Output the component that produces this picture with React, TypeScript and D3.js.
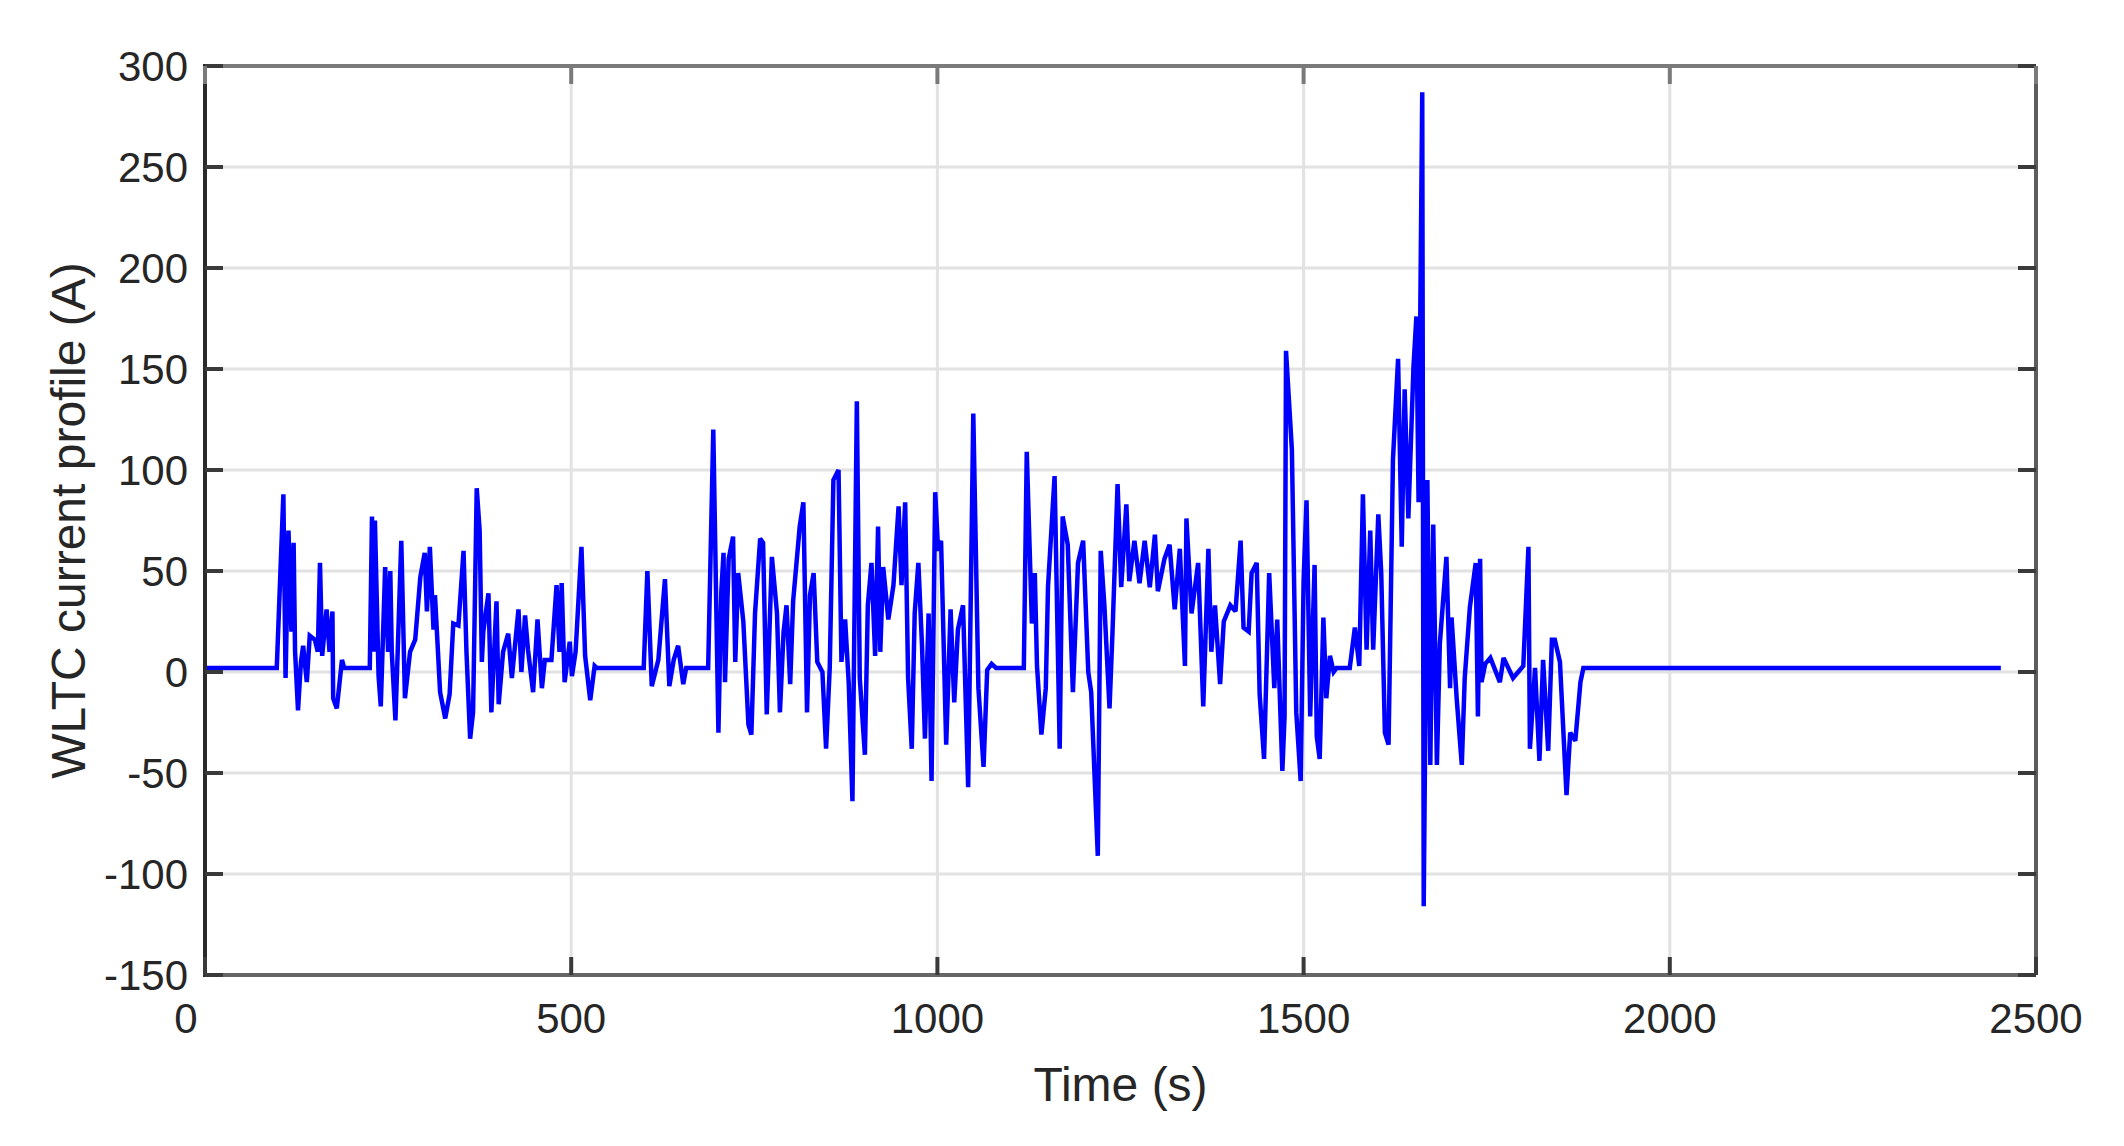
import React from "react";
import * as d3 from "d3";

// Time (s) and WLTC current (A)
const times: number[] = [
  0, 98, 107, 110, 114, 118, 121, 123, 127, 131, 134, 139, 143, 150, 154, 157, 160, 166, 170, 174, 175, 180, 187, 190,
  225, 228, 230, 232, 237, 240, 246, 250, 253, 255, 260, 264, 268, 273, 280, 287, 294, 300, 303, 307, 312, 314, 321, 328,
  334, 339, 346, 353, 357, 362, 366, 371, 375, 378, 380, 387, 391, 398, 401, 407, 414, 419, 428, 432, 437, 441, 448, 454,
  460, 464, 473, 480, 484, 487, 491, 498, 501, 506, 514, 519, 526, 532, 535, 599, 604, 610, 619, 628, 634, 640, 646, 653,
  657, 687, 694, 701, 705, 708, 710, 715, 721, 724, 728, 735, 742, 746, 751, 758, 762, 767, 774, 781, 785, 790, 794, 799,
  803, 812, 817, 822, 826, 831, 836, 843, 848, 853, 858, 865, 869, 874, 879, 884, 890, 894, 901, 905, 910, 915, 919, 922,
  926, 933, 940, 947, 951, 956, 960, 965, 969, 974, 979, 983, 988, 992, 997, 1001, 1005, 1012, 1018, 1023, 1028, 1035, 1042, 1049,
  1056, 1063, 1068, 1074, 1080, 1118, 1122, 1129, 1133, 1136, 1142, 1148, 1151, 1160, 1167, 1171, 1178, 1185, 1192, 1199, 1206, 1210,
  1219, 1223, 1228, 1235, 1239, 1246, 1251, 1258, 1262, 1269, 1276, 1283, 1290, 1297, 1301, 1310, 1317, 1324, 1331, 1338, 1340, 1347,
  1356, 1363, 1370, 1374, 1379, 1386, 1391, 1400, 1407, 1414, 1418, 1425, 1429, 1436, 1440, 1446, 1453, 1460, 1464, 1471, 1474, 1476,
  1484, 1490, 1496, 1500, 1504, 1509, 1515, 1518, 1522, 1527, 1531, 1536, 1541, 1545, 1563, 1570, 1576, 1581, 1586, 1591, 1595, 1602,
  1606, 1611, 1616, 1622, 1629, 1634, 1638, 1643, 1650, 1654, 1657, 1662, 1664, 1669, 1673, 1677, 1682, 1686, 1695, 1700, 1702, 1709,
  1716, 1720, 1727, 1735, 1738, 1741, 1743, 1748, 1755, 1768, 1773, 1786, 1800, 1807, 1809, 1816, 1822, 1827, 1834, 1839, 1843, 1850,
  1859, 1864, 1871, 1878, 1882, 2452,
];

const currents: number[] = [
  2, 2, 88, -3, 70, 20, 64, 10, -19, 5, 13, -5, 18, 16, 10, 54, 8, 31, 10, 30, -13, -18, 6, 2,
  2, 77, 10, 75, -2, -17, 52, 10, 50, 10, -24, 20, 65, -13, 10, 16, 47, 59, 30, 62, 21, 38, -10, -23,
  -11, 24, 23, 60, 10, -33, -20, 91, 70, 5, 20, 39, -20, 35, -16, 10, 19, -3, 31, 0, 28, 11, -10, 26,
  -8, 6, 6, 43, 10, 44, -5, 15, -2, 10, 62, 8, -14, 3, 2, 2, 50, -7, 6, 46, -7, 6, 13, -6,
  2, 2, 120, -30, 40, 59, -5, 56, 67, 5, 49, 25, -26, -31, 29, 66, 64, -21, 57, 29, -20, 20, 33, -6,
  35, 72, 84, -20, 38, 49, 5, 0, -38, 2, 95, 100, 5, 26, -6, -64, 134, -3, -41, 33, 54, 8, 72, 10,
  52, 26, 43, 82, 43, 84, -3, -38, 29, 54, 13, -33, 29, -54, 89, 60, 65, -36, 31, -15, 21, 33, -57, 128,
  -8, -47, 1, 4, 2, 2, 109, 24, 49, 3, -31, -8, 42, 97, -38, 77, 63, -10, 54, 65, 0, -10,
  -91, 60, 33, -18, 19, 93, 42, 83, 45, 65, 44, 65, 42, 68, 40, 56, 63, 31, 61, 3, 76, 29,
  54, -17, 61, 10, 33, -6, 25, 33, 30, 65, 22, 20, 49, 54, -11, -43, 49, -8, 26, -49, -22, 159,
  110, -20, -54, 45, 85, -22, 53, -32, -43, 27, -13, 8, 0, 2, 2, 22, 3, 88, 11, 70, 11, 78,
  49, -30, -36, 105, 155, 62, 140, 76, 151, 176, 84, 287, -116, 95, -46, 73, -46, 14, 57, -8, 27, -13,
  -46, -3, 32, 54, -22, 56, -5, 4, 7, -5, 7, -3, 3, 62, -38, 2, -44, 6, -39, 16, 16, 5,
  -61, -30, -34, -5, 2, 2,
];

const xTicks: number[] = [0, 500, 1000, 1500, 2000, 2500];
const yTicks: number[] = [-150, -100, -50, 0, 50, 100, 150, 200, 250, 300];
const xLabel = "Time (s)";
const yLabel = "WLTC current profile (A)";

export default function App() {
  const W = 2124;
  const H = 1146;
  const left = 205;
  const right = 2036;
  const top = 66;
  const bottom = 975;

  const x = d3.scaleLinear().domain([0, 2500]).range([left, right]);
  const y = d3.scaleLinear().domain([-150, 300]).range([bottom, top]);

  const data = times.map((t, i) => [t, currents[i]] as [number, number]);
  const line = d3
    .line<[number, number]>()
    .x((d) => x(d[0]))
    .y((d) => y(d[1]));

  const tickLen = 18;
  const textColor = "#262626";
  const font = "'Liberation Sans', Arial, Helvetica, sans-serif";

  return (
    <svg
      width={W}
      height={H}
      style={{ position: "absolute", left: 0, top: 0, background: "#fff" }}
    >
      <rect x={0} y={0} width={W} height={H} fill="#fff" />
      {/* grid */}
      <g stroke="#e2e2e2" strokeWidth={3}>
        {xTicks.map((t) => (
          <line key={"gx" + t} x1={x(t)} x2={x(t)} y1={top} y2={bottom} />
        ))}
        {yTicks.map((t) => (
          <line key={"gy" + t} x1={left} x2={right} y1={y(t)} y2={y(t)} />
        ))}
      </g>
      {/* data */}
      <path
        d={line(data) || ""}
        fill="none"
        stroke="#0000ff"
        strokeWidth={4.5}
        strokeLinejoin="miter"
        strokeMiterlimit={2.5}
      />
      {/* box */}
      <g fill="none">
        <line x1={left} x2={right} y1={top} y2={top} stroke="#7a7a7a" strokeWidth={4} />
        <line x1={right} x2={right} y1={top} y2={bottom} stroke="#5c5c5c" strokeWidth={4} />
        <line x1={left} x2={right} y1={bottom} y2={bottom} stroke="#666" strokeWidth={4} />
        <line x1={left} x2={left} y1={top - 2} y2={bottom + 2} stroke="#2a2a2a" strokeWidth={4} />
      </g>
      {/* ticks */}
      <g stroke="#3a3a3a" strokeWidth={4}>
        {yTicks.map((t) => (
          <g key={"ty" + t}>
            <line x1={left} x2={left + tickLen} y1={y(t)} y2={y(t)} />
            <line x1={right - tickLen} x2={right} y1={y(t)} y2={y(t)} />
          </g>
        ))}
        {xTicks.map((t) => (
          <g key={"tx" + t}>
            <line x1={x(t)} x2={x(t)} y1={bottom} y2={bottom - tickLen} />
            <line x1={x(t)} x2={x(t)} y1={top} y2={top + tickLen} stroke="#7a7a7a" />
          </g>
        ))}
      </g>
      {/* tick labels */}
      <g fill={textColor} fontFamily={font} fontSize={42}>
        {yTicks.map((t) => (
          <text key={"ly" + t} x={left - 17} y={y(t)} dy="0.36em" textAnchor="end">
            {t}
          </text>
        ))}
        {xTicks.map((t) => (
          <text
            key={"lx" + t}
            x={x(t) + (t === 0 ? -19 : 0)}
            y={bottom + 43}
            dy="0.36em"
            textAnchor="middle"
          >
            {t}
          </text>
        ))}
      </g>
      {/* axis labels */}
      <text
        x={(left + right) / 2}
        y={1084}
        dy="0.36em"
        textAnchor="middle"
        fill={textColor}
        fontFamily={font}
        fontSize={48}
      >
        {xLabel}
      </text>
      <text
        transform={`translate(68, ${(top + bottom) / 2}) rotate(-90)`}
        dy="0.36em"
        textAnchor="middle"
        fill={textColor}
        fontFamily={font}
        fontSize={48}
      >
        {yLabel}
      </text>
    </svg>
  );
}
